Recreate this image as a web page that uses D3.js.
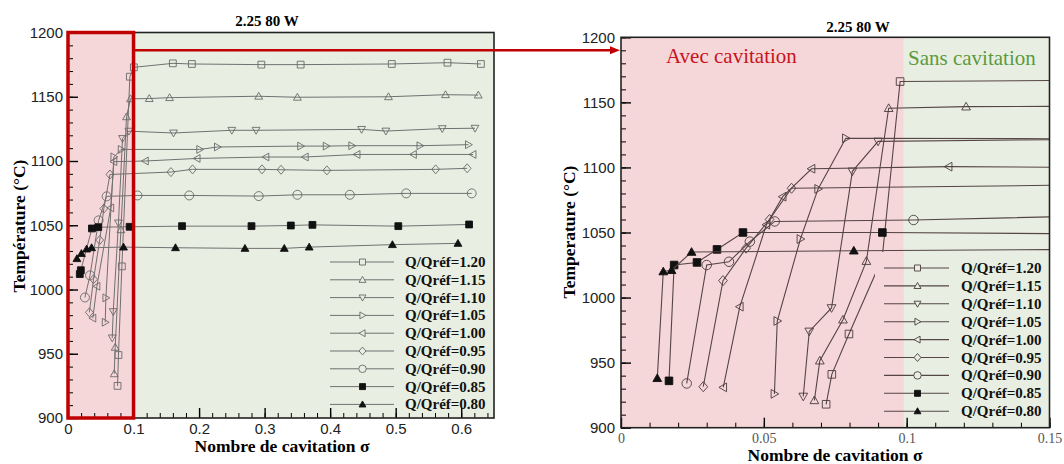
<!DOCTYPE html>
<html>
<head>
<meta charset="utf-8">
<script src="https://cdn.jsdelivr.net/npm/d3@7"></script>
<style>
  body { margin: 0; background: #fff; }
</style>
</head>
<body>
<script>
// series (Q/Qref) and their marker shapes
const seriesNames = ['Q/Qréf=1.20', 'Q/Qréf=1.15', 'Q/Qréf=1.10', 'Q/Qréf=1.05', 'Q/Qréf=1.00',
                     'Q/Qréf=0.95', 'Q/Qréf=0.90', 'Q/Qréf=0.85', 'Q/Qréf=0.80'];
const seriesShapes = ['square', 'up', 'down', 'right', 'left', 'diamond', 'circle', 'squareFilled', 'upFilled'];

// left chart: full range of sigma
const leftSigma = [
  [0.0756, 0.077, 0.0822, 0.0944, 0.1005, 0.160, 0.189, 0.295, 0.355, 0.494, 0.579, 0.630],
  [0.0705, 0.072, 0.0807, 0.0893, 0.0954, 0.124, 0.155, 0.291, 0.350, 0.489, 0.576, 0.626],
  [0.0675, 0.069, 0.077, 0.0832, 0.0929, 0.161, 0.250, 0.287, 0.448, 0.485, 0.571, 0.621],
  [0.0568, 0.0578, 0.070, 0.0812, 0.201, 0.228, 0.355, 0.394, 0.433, 0.537, 0.611],
  [0.0379, 0.0441, 0.0652, 0.070, 0.118, 0.197, 0.302, 0.362, 0.441, 0.527, 0.618],
  [0.0326, 0.039, 0.0484, 0.0547, 0.064, 0.157, 0.190, 0.296, 0.325, 0.395, 0.561, 0.609],
  [0.0258, 0.0336, 0.0467, 0.059, 0.106, 0.185, 0.291, 0.350, 0.430, 0.516, 0.616],
  [0.018, 0.0196, 0.0365, 0.0462, 0.094, 0.174, 0.280, 0.340, 0.373, 0.504, 0.612],
  [0.0136, 0.0205, 0.0284, 0.036, 0.0847, 0.164, 0.270, 0.330, 0.368, 0.495, 0.595]
];
const leftTemp = [
  [925, 949, 1018, 1165.6, 1172.9, 1176, 1175.5, 1175, 1175, 1175.5, 1176.5, 1175.5],
  [934.4, 955, 1046.5, 1134.4, 1148.4, 1148.6, 1149.3, 1150.4, 1149.6, 1150, 1151.6, 1151.3],
  [962.3, 982.8, 1051.8, 1117.5, 1123.2, 1121.8, 1123.9, 1123.9, 1124.6, 1123.3, 1125.2, 1125.5],
  [974.5, 993.5, 1103.2, 1109, 1109, 1110.9, 1111.6, 1111.6, 1111.9, 1111.9, 1112.7],
  [977.7, 1002.5, 1063.5, 1099.5, 1100, 1102, 1103.1, 1103.1, 1105.1, 1105.1, 1105.1],
  [982.2, 1008, 1038.5, 1063, 1089.5, 1091.4, 1093.5, 1093.5, 1093.2, 1092.7, 1093.5, 1094.3],
  [993.8, 1011, 1053.8, 1072.5, 1073.2, 1073.2, 1072.7, 1073.7, 1073.7, 1074.8, 1074.8],
  [1012, 1015, 1047.5, 1048.5, 1048.8, 1049.3, 1049.3, 1049.8, 1050.3, 1049.3, 1050.6],
  [1024, 1028, 1031.5, 1032.5, 1033, 1032.5, 1032, 1032, 1033, 1034.9, 1035.9]
];

// right chart: zoom on the cavitation zone
const rightSigma = [
  [0.0718, 0.0738, 0.0798, 0.0914, 0.0977, 0.16],
  [0.0677, 0.0696, 0.0777, 0.0859, 0.0937, 0.1208, 0.16],
  [0.0638, 0.0659, 0.0737, 0.081, 0.090, 0.16],
  [0.0537, 0.0547, 0.0628, 0.069, 0.0787, 0.16],
  [0.0358, 0.0416, 0.0509, 0.0566, 0.0667, 0.1147, 0.16],
  [0.0288, 0.0357, 0.0438, 0.052, 0.0597, 0.16],
  [0.023, 0.030, 0.0378, 0.0451, 0.0538, 0.1024, 0.16],
  [0.0168, 0.0186, 0.0266, 0.0336, 0.0427, 0.0915, 0.16],
  [0.0127, 0.0148, 0.0177, 0.0247, 0.0815, 0.16]
];
const rightTemp = [
  [918, 941, 972, 1030, 1166, 1167],
  [921, 951.5, 983, 1028, 1145.5, 1146.7, 1147],
  [924, 974, 992, 1097, 1120, 1121.5],
  [926, 982, 1045, 1083.5, 1122.4, 1122],
  [931, 993, 1056, 1077.5, 1099, 1100.6, 1100],
  [931.5, 1013, 1038, 1060, 1084, 1086.5],
  [934, 1025, 1027.5, 1043, 1058.5, 1059.6, 1062.5],
  [936, 1025, 1027, 1037, 1050, 1050, 1049],
  [938, 1020, 1021, 1035, 1036, 1037]
];

const yTicks = [900, 950, 1000, 1050, 1100, 1150, 1200];
const leftXTicks = [0, 0.1, 0.2, 0.3, 0.4, 0.5, 0.6];
const rightXTicks = [0, 0.05, 0.1, 0.15];

const pink = '#f5d6d9';
const green = '#e8efe2';
const red = '#c00000';
const serif = '"Liberation Serif", "Times New Roman", serif';
const sans = '"Liberation Sans", Arial, sans-serif';

const svg = d3.select('body').append('svg').attr('width', 1064).attr('height', 464);

function markerPath(shape, s) {
  const t = s * 1.15;
  switch (shape) {
    case 'square': case 'squareFilled':
      return `M${-s},${-s}h${2 * s}v${2 * s}h${-2 * s}Z`;
    case 'up': case 'upFilled':
      return `M0,${-t}L${t},${t * 0.75}L${-t},${t * 0.75}Z`;
    case 'down':
      return `M0,${t}L${t},${-t * 0.75}L${-t},${-t * 0.75}Z`;
    case 'right':
      return `M${t},0L${-t * 0.75},${-t}L${-t * 0.75},${t}Z`;
    case 'left':
      return `M${-t},0L${t * 0.75},${-t}L${t * 0.75},${t}Z`;
    case 'diamond':
      return `M0,${-t * 1.15}L${t},0L0,${t * 1.15}L${-t},0Z`;
    case 'circle': {
      const r = s * 1.25;
      return `M${-r},0a${r},${r} 0 1,0 ${2 * r},0a${r},${r} 0 1,0 ${-2 * r},0`;
    }
  }
}

function drawChart(cfg) {
  const g = svg.append('g');
  const x = d3.scaleLinear().domain([0, cfg.xMax]).range([cfg.left, cfg.right]);
  const y = d3.scaleLinear().domain([900, 1200]).range([cfg.bottom, cfg.top]);
  const h = cfg.bottom - cfg.top;

  // zones: with / without cavitation
  g.append('rect').attr('x', x(0)).attr('y', cfg.top).attr('width', x(cfg.limit) - x(0)).attr('height', h).attr('fill', pink);
  g.append('rect').attr('x', x(cfg.limit)).attr('y', cfg.top).attr('width', cfg.right - x(cfg.limit)).attr('height', h).attr('fill', green);

  svg.append('clipPath').attr('id', 'clip-' + cfg.id)
    .append('rect').attr('x', cfg.left).attr('y', cfg.top).attr('width', cfg.right - cfg.left).attr('height', h);

  const plot = g.append('g').attr('clip-path', `url(#clip-${cfg.id})`);
  const line = d3.line().x(d => x(d[0])).y(d => y(d[1]));

  seriesNames.forEach((name, i) => {
    const pts = d3.zip(cfg.sigma[i], cfg.temp[i]);
    const filled = seriesShapes[i].endsWith('Filled');
    plot.append('path')
      .attr('d', line(pts))
      .attr('fill', 'none')
      .attr('stroke', cfg.lineColor)
      .attr('stroke-width', cfg.lineWidth);
    plot.selectAll(null)
      .data(pts)
      .join('path')
      .attr('transform', d => `translate(${x(d[0])},${y(d[1])})`)
      .attr('d', markerPath(seriesShapes[i], seriesShapes[i] === 'circle' ? cfg.circleSize : cfg.markerSize))
      .attr('fill', filled ? '#111' : 'none')
      .attr('stroke', filled ? '#111' : cfg.markerColor)
      .attr('stroke-width', 0.9);
  });

  // legend (its background hides the lines behind it)
  const lg = cfg.legend;
  if (lg.box) {
    const bx0 = lg.box[0], bx1 = cfg.right, by0 = lg.box[1], by1 = cfg.bottom;
    const split = Math.max(bx0, x(cfg.limit));
    if (split > bx0) g.append('rect').attr('x', bx0).attr('y', by0).attr('width', split - bx0).attr('height', by1 - by0).attr('fill', pink);
    g.append('rect').attr('x', split).attr('y', by0).attr('width', bx1 - split).attr('height', by1 - by0).attr('fill', green);
  }
  seriesNames.forEach((name, i) => {
    const ry = lg.y0 + i * lg.dy;
    const filled = seriesShapes[i].endsWith('Filled');
    g.append('line').attr('x1', lg.x1).attr('x2', lg.x2).attr('y1', ry).attr('y2', ry)
      .attr('stroke', cfg.lineColor).attr('stroke-width', cfg.lineWidth);
    g.append('path').attr('transform', `translate(${lg.mx},${ry})`)
      .attr('d', markerPath(seriesShapes[i], 3))
      .attr('fill', filled ? '#111' : (lg.mx < x(cfg.limit) ? pink : green))
      .attr('stroke', filled ? '#111' : cfg.markerColor).attr('stroke-width', 0.9);
    g.append('text').attr('x', lg.tx).attr('y', ry + 5)
      .attr('font-family', serif).attr('font-weight', 'bold').attr('font-size', 15)
      .attr('fill', '#111').text(name);
  });

  // axes: inward ticks
  const xMinor = d3.range(0, cfg.xMax + 1e-9, cfg.xMinor);
  const yMinor = d3.range(900, 1201, 10);
  g.append('g').attr('transform', `translate(0,${cfg.bottom})`)
    .call(d3.axisBottom(x).tickValues(xMinor).tickSize(-5).tickFormat(''))
    .call(a => a.select('.domain').remove());
  g.append('g').attr('transform', `translate(${cfg.left},0)`)
    .call(d3.axisLeft(y).tickValues(yMinor).tickSize(-5).tickFormat(''))
    .call(a => a.select('.domain').remove());

  const xa = g.append('g').attr('transform', `translate(0,${cfg.bottom})`)
    .call(d3.axisBottom(x).tickValues(cfg.xTicks).tickSize(-10).tickPadding(cfg.xPad).tickFormat(d => String(d)));
  xa.select('.domain').remove();
  xa.selectAll('line').attr('stroke-width', 1.4);
  xa.selectAll('text').attr('font-family', cfg.xFont).attr('font-size', cfg.xFontSize).attr('fill', cfg.xColor);

  const ya = g.append('g').attr('transform', `translate(${cfg.left},0)`)
    .call(d3.axisLeft(y).tickValues(yTicks).tickSize(-10).tickPadding(cfg.yPad).tickFormat(d3.format('d')));
  ya.select('.domain').remove();
  ya.selectAll('line').attr('stroke-width', 1.4);
  ya.selectAll('text').attr('font-family', sans).attr('font-size', 15).attr('fill', '#222');

  g.append('rect').attr('x', cfg.left).attr('y', cfg.top).attr('width', cfg.right - cfg.left).attr('height', h)
    .attr('fill', 'none').attr('stroke', '#222').attr('stroke-width', 1.6);

  // titles
  g.append('text').attr('x', cfg.title[0]).attr('y', cfg.title[1]).attr('text-anchor', 'middle')
    .attr('font-family', serif).attr('font-weight', 'bold').attr('font-size', 15).text('2.25 80 W');
  g.append('text').attr('x', cfg.xTitle[0]).attr('y', cfg.xTitle[1]).attr('text-anchor', 'middle')
    .attr('font-family', serif).attr('font-weight', 'bold').attr('font-size', 17.5).text('Nombre de cavitation σ');
  g.append('text').attr('transform', `translate(${cfg.yTitle[0]},${cfg.yTitle[1]}) rotate(-90)`).attr('text-anchor', 'middle')
    .attr('font-family', serif).attr('font-weight', 'bold').attr('font-size', 17.5).text(cfg.yLabel);

  return { g, x, y };
}

const L = drawChart({
  id: 'left', left: 68, right: 494, top: 32.5, bottom: 418, xMax: 0.65, limit: 0.1,
  sigma: leftSigma, temp: leftTemp, xTicks: leftXTicks, xMinor: 0.02,
  lineColor: '#707070', lineWidth: 1, markerColor: '#6a6a6a', markerSize: 3.4, circleSize: 3.6,
  xPad: 5, yPad: 5, xFont: sans, xFontSize: 15, xColor: '#222',
  legend: { x1: 330, x2: 394, mx: 362.5, tx: 405, y0: 262, dy: 17.8 },
  title: [267, 26], xTitle: [282, 452], yTitle: [25, 226], yLabel: 'Température (°C)'
});

const R = drawChart({
  id: 'right', left: 621, right: 1049.5, top: 37.3, bottom: 427.7, xMax: 0.15, limit: 0.099,
  sigma: rightSigma, temp: rightTemp, xTicks: rightXTicks, xMinor: 0.01,
  lineColor: '#554545', lineWidth: 1.1, markerColor: '#4a3c3c', markerSize: 3.8, circleSize: 3.8,
  xPad: 5, yPad: 6, xFont: serif, xFontSize: 14, xColor: '#555',
  legend: { box: [875, 252], x1: 884, x2: 949, mx: 917.5, tx: 961, y0: 268, dy: 17.9 },
  title: [858, 32], xTitle: [835, 461], yTitle: [575, 232], yLabel: 'Temperature (°C)'
});

// zone labels on the right chart
R.g.append('text').attr('x', 666).attr('y', 63).attr('font-family', serif).attr('font-size', 21)
  .attr('fill', '#c8141c').text('Avec cavitation');
R.g.append('text').attr('x', 908).attr('y', 65).attr('font-family', serif).attr('font-size', 21)
  .attr('fill', '#5c9a3e').text('Sans cavitation');

// red frame on the cavitation zone + arrow to the zoom
const redG = svg.append('g');
redG.append('rect').attr('x', L.x(0)).attr('y', L.y(1200)).attr('width', L.x(0.1) - L.x(0)).attr('height', L.y(900) - L.y(1200))
  .attr('fill', 'none').attr('stroke', red).attr('stroke-width', 3.5);
const arrowY = R.y(1190);
redG.append('line').attr('x1', L.x(0.1)).attr('x2', R.x(0) - 9).attr('y1', arrowY).attr('y2', arrowY)
  .attr('stroke', red).attr('stroke-width', 2.5);
redG.append('path')
  .attr('d', `M${R.x(0) - 1},${arrowY}L${R.x(0) - 11},${arrowY - 4}L${R.x(0) - 11},${arrowY + 4}Z`)
  .attr('fill', red);
</script>
</body>
</html>
